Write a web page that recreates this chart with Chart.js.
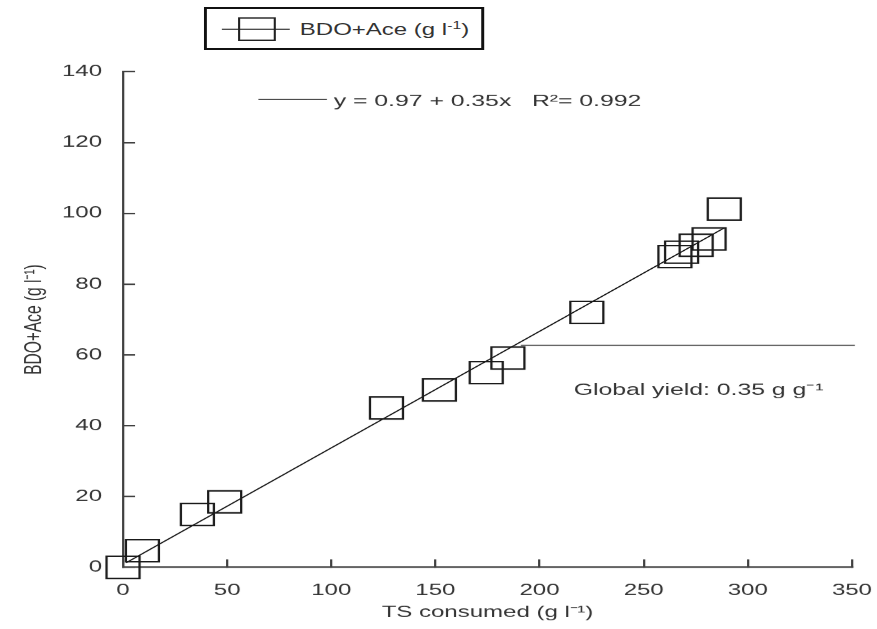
<!DOCTYPE html>
<html>
<head>
<meta charset="utf-8">
<script src="https://cdn.jsdelivr.net/npm/chart.js@4.4.1/dist/chart.umd.min.js"></script>
<style>
html,body{margin:0;padding:0;background:#fff;overflow:hidden}
/* the reference is stretched sideways about 1.5x, so draw narrow and stretch */
#wrap{position:absolute;left:0;top:0;width:585px;height:629px;transform:scaleX(1.49915);transform-origin:0 0}
#legend{position:absolute;left:136px;top:7px;width:187px;height:43px;box-sizing:border-box;border:2px solid #111;background:#fff;font:16px 'Liberation Sans',Arial,sans-serif;color:#333}
#legend svg{position:absolute;left:8px;top:2px}
#legend span{position:absolute;left:62px;top:12px;line-height:18px;white-space:nowrap}
#legend sup{font-size:10.5px;vertical-align:6px;line-height:0}
</style>
</head>
<body>
<div id="wrap">
  <canvas id="chart"></canvas>
  <div id="legend">
    <svg width="52" height="32"><line x1="2" y1="18.3" x2="47.3" y2="18.3" stroke="#111" stroke-width="1"/><rect x="13.5" y="7" width="23.8" height="22.3" fill="none" stroke="#222" stroke-width="1.4"/></svg>
    <span>BDO+Ace (g l<sup>-1</sup>)</span>
  </div>
</div>
<script>
// ----------------- DATA -----------------
const tsConsumed = [0, 9.3, 35.7, 48.8, 126.5, 151.9, 174.4, 184.8, 222.7, 265.0, 268.2, 275.2, 281.4, 288.7];
const bdoAce     = [0, 4.7, 14.9, 18.5, 45.0, 50.1, 55.0, 59.1, 72.0, 87.8, 89.0, 91.0, 92.8, 101.2];
const fitX = [1.5, 288.7];
const fitY = [1.3, 95.9];
const yieldX = [191, 351.4];
const yieldY = [62.7, 62.7];
const xTicks = [0, 50, 100, 150, 200, 250, 300, 350];
const yTicks = [0, 20, 40, 60, 80, 100, 120, 140];
// ----------------------------------------

const FONT = "'Liberation Sans', Arial, sans-serif";
const TEXT = '#333';
const AXIS = '#404040';

const pts = (xs, ys) => xs.map((v, i) => ({x: v, y: ys[i]}));

// equation + yield labels
const annotations = {
  id: 'annotations',
  afterDatasetsDraw(chart){
    const {ctx, scales:{x, y}} = chart;
    ctx.save();
    ctx.strokeStyle = '#111';
    ctx.lineWidth = 1;
    ctx.beginPath();
    ctx.moveTo(x.getPixelForValue(65), y.getPixelForValue(132.2));
    ctx.lineTo(x.getPixelForValue(97.9), y.getPixelForValue(132.2));
    ctx.stroke();
    ctx.font = '16.5px ' + FONT;
    ctx.fillStyle = TEXT;
    ctx.textBaseline = 'middle';
    ctx.fillText('y = 0.97 + 0.35x   R\u00b2= 0.992', x.getPixelForValue(101.2), y.getPixelForValue(131.6));
    ctx.fillText('Global yield: 0.35 g g\u207b\u00b9', x.getPixelForValue(216.4), y.getPixelForValue(50.0));
    ctx.restore();
  }
};

// no extra room for end labels, the layout padding handles it
const noEdgePad = s => { s.paddingLeft = 0; s.paddingRight = 0; s.paddingTop = 0; s.paddingBottom = 0; };

function axis(ticks, title, titleSize, titlePad, extra){
  return Object.assign({
    type: 'linear',
    min: ticks[0],
    max: ticks[ticks.length - 1],
    afterBuildTicks: s => { s.ticks = ticks.map(v => ({value: v})); },
    grid: {drawOnChartArea: false, drawTicks: true, tickLength: -8, color: AXIS, lineWidth: 1.5},
    border: {display: true, color: AXIS, width: 1.5},
    ticks: {padding: 22, color: TEXT, autoSkip: false, maxRotation: 0, font: {size: 16, family: FONT}},
    title: {display: true, text: title, color: TEXT, padding: titlePad, font: {size: titleSize, family: FONT}}
  }, extra);
}

new Chart(document.getElementById('chart'), {
  type: 'scatter',
  data: {
    datasets: [
      {
        data: pts(tsConsumed, bdoAce),
        pointStyle: 'rect',
        pointRadius: 15.56,
        pointHoverRadius: 15.56,
        pointBorderWidth: 1.5,
        borderColor: '#1a1a1a',
        backgroundColor: 'rgba(0,0,0,0)',
        showLine: false,
        clip: false
      },
      {
        data: pts(fitX, fitY),
        showLine: true,
        borderColor: '#111',
        borderWidth: 1,
        pointRadius: 0,
        clip: false
      },
      {
        data: pts(yieldX, yieldY),
        showLine: true,
        borderColor: '#555',
        borderWidth: 1.2,
        pointRadius: 0,
        clip: false
      }
    ]
  },
  options: {
    responsive: true,
    maintainAspectRatio: false,
    devicePixelRatio: 1.5,
    animation: false,
    layout: {padding: {left: 0, right: 13.7, top: 71.7, bottom: 0}},
    plugins: {legend: {display: false}, tooltip: {enabled: false}},
    scales: {
      x: axis(xTicks, 'TS consumed (g l\u207b\u00b9)', 16, {top: 0, bottom: 7.4}, {
        ticks: {padding: 21.7, color: TEXT, autoSkip: false, maxRotation: 0, font: {size: 16, family: FONT}},
        afterFit: s => { s.height = 62; noEdgePad(s); }
      }),
      y: axis(yTicks, 'BDO+Ace (g l\u207b\u00b9)', 15.5, {top: 14, bottom: 0}, {
        afterFit: s => { s.width = 82; noEdgePad(s); }
      })
    }
  },
  plugins: [annotations]
});
</script>
</body>
</html>
